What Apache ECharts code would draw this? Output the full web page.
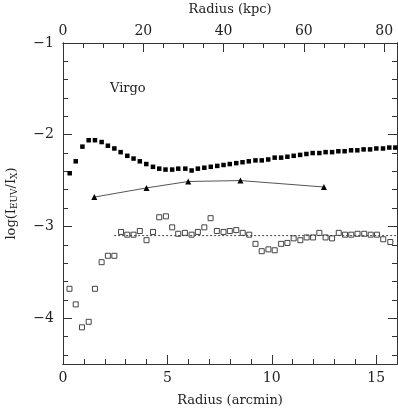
<!DOCTYPE html>
<html>
<head>
<meta charset="utf-8">
<script src="https://cdn.jsdelivr.net/npm/echarts@6/dist/echarts.min.js"></script>
<style>
  html, body { margin: 0; padding: 0; background: #fff; }
  #chart { width: 398px; height: 408px; }
</style>
</head>
<body>
<div id="chart"></div>
<script>
// filled points (log I_EUV/I_X, inner profile)
var filledX = [0.32,0.61,0.93,1.23,1.53,1.85,2.15,2.46,2.76,3.08,3.38,3.68,3.99,4.31,4.61,4.91,5.23,5.52,
  5.86,6.16,6.46,6.77,7.08,7.39,7.69,7.99,8.30,8.60,8.90,9.22,9.52,9.83,10.14,10.45,10.75,
  11.05,11.36,11.66,11.96,12.28,12.58,12.89,13.19,13.49,13.80,14.10,14.40,14.71,15.01,15.33,15.63,15.92];
var filledY = [-2.42,-2.29,-2.13,-2.06,-2.06,-2.08,-2.12,-2.15,-2.19,-2.23,-2.26,-2.29,-2.32,-2.35,-2.37,-2.38,-2.38,-2.37,
  -2.37,-2.39,-2.37,-2.36,-2.35,-2.34,-2.33,-2.32,-2.31,-2.30,-2.29,-2.28,-2.28,-2.27,-2.25,-2.25,-2.24,
  -2.23,-2.22,-2.21,-2.20,-2.20,-2.19,-2.19,-2.18,-2.18,-2.17,-2.17,-2.16,-2.16,-2.15,-2.15,-2.14,-2.14];

// open squares
var openX = [0.31,0.61,0.91,1.23,1.53,1.85,2.15,2.46,2.78,3.08,3.38,3.68,4.00,4.31,4.61,4.93,5.23,5.52,
  5.84,6.16,6.46,6.77,7.07,7.37,7.69,7.99,8.30,8.61,8.92,9.22,9.52,9.84,10.14,10.45,10.75,
  11.05,11.37,11.67,11.98,12.28,12.58,12.89,13.21,13.51,13.81,14.11,14.43,14.74,15.04,15.34,15.68];
var openY = [-3.68,-3.85,-4.10,-4.04,-3.68,-3.39,-3.32,-3.32,-3.06,-3.09,-3.09,-3.05,-3.15,-3.06,-2.90,-2.89,-3.01,-3.08,
  -3.07,-3.09,-3.06,-3.01,-2.91,-3.05,-3.06,-3.05,-3.04,-3.07,-3.09,-3.19,-3.27,-3.25,-3.26,-3.19,-3.18,
  -3.13,-3.15,-3.12,-3.12,-3.07,-3.12,-3.13,-3.07,-3.09,-3.09,-3.08,-3.08,-3.09,-3.09,-3.14,-3.17];

// triangles
var triX = [1.5, 4.0, 6.0, 8.5, 12.5];
var triY = [-2.68, -2.58, -2.51, -2.50, -2.57];

// mean level of open squares (dotted)
var meanX = [2.45, 16];
var meanY = [-3.1, -3.1];

// ticks
var arcMajor = [0, 5, 10, 15];
var arcMinor = [1,2,3,4,6,7,8,9,11,12,13,14,16];
var kpcMajor = [0, 20, 40, 60, 80];
var kpcMinor = [5,10,15,25,30,35,45,50,55,65,70,75];
var yMajor = [-4, -3, -2, -1];
var yMinor = [-4.4,-4.2,-3.8,-3.6,-3.4,-3.2,-2.8,-2.6,-2.4,-2.2,-1.8,-1.6,-1.4,-1.2];

var kpcPerArcmin = 5.2;
var font = "'DejaVu Serif', 'Liberation Serif', serif";
var ink = '#333';

function zip(a, b) { return a.map(function (v, i) { return [v, b[i]]; }); }
function minus(v) { return (v < 0 ? '\u2212' : '') + Math.abs(v); }

function xAx(pos, min, max, ticks, len, labels, extra) {
  var ax = {
    type: 'value', position: pos, min: min, max: max,
    axisLine: { show: true, onZero: false, lineStyle: { color: ink, width: 1 } },
    axisTick: { show: true, inside: true, length: len, customValues: ticks, lineStyle: { color: ink } },
    axisLabel: labels ? { show: true, customValues: labels, margin: pos === 'top' ? 5 : 7,
      color: '#222', fontFamily: font, fontSize: 14 } : { show: false },
    splitLine: { show: false }
  };
  return Object.assign(ax, extra || {});
}

var yAx = function (pos, ticks, len, labels, extra) {
  var ax = {
    type: 'value', position: pos, min: -4.5, max: -1, offset: 0,
    axisLine: { show: true, onZero: false, lineStyle: { color: ink, width: 1 } },
    axisTick: { show: true, inside: true, length: len, customValues: ticks, lineStyle: { color: ink } },
    axisLabel: labels ? { show: true, customValues: labels, margin: 9, formatter: minus,
      color: '#222', fontFamily: font, fontSize: 14 } : { show: false },
    splitLine: { show: false }
  };
  return Object.assign(ax, extra || {});
};

var option = {
  backgroundColor: '#fff',
  animation: false,
  title: {
    text: 'Virgo', left: 105, top: 77,
    textStyle: { fontFamily: font, fontSize: 13, fontWeight: 'normal', color: '#222' }
  },
  grid: { left: 63, right: 1, top: 43, bottom: 44, outerBoundsMode: 'none', containLabel: false },
  xAxis: [
    xAx('bottom', 0, 16, arcMajor, 9, arcMajor, {
      name: 'Radius (arcmin)', nameLocation: 'middle', nameGap: 30,
      nameTextStyle: { fontFamily: font, fontSize: 13, color: '#222' }
    }),
    xAx('bottom', 0, 16, arcMinor, 5, null),
    xAx('top', 0, 16 * kpcPerArcmin, kpcMajor, 9, kpcMajor, {
      name: 'Radius (kpc)', nameLocation: 'middle', nameGap: 27,
      nameTextStyle: { fontFamily: font, fontSize: 13, color: '#222' }
    }),
    xAx('top', 0, 16 * kpcPerArcmin, kpcMinor, 5, null)
  ],
  yAxis: [
    yAx('left', yMajor, 9, yMajor, {
      name: '{n|log(I}{s|EUV}{n|/I}{s|X}{n|)}', nameLocation: 'middle', nameGap: 44,
      nameTextStyle: {
        rich: {
          n: { fontFamily: font, fontSize: 13, color: '#222' },
          s: { fontFamily: font, fontSize: 9, color: '#222', verticalAlign: 'bottom', padding: [6, 0, 0, 0] }
        }
      }
    }),
    yAx('left', yMinor, 5, null),
    yAx('right', yMajor, 9, null),
    yAx('right', yMinor, 5, null)
  ],
  series: [
    {
      type: 'line', data: zip(meanX, meanY), symbol: 'none',
      lineStyle: { color: '#444', width: 1, type: [2, 2] }
    },
    {
      type: 'line', data: zip(triX, triY), symbol: 'triangle', symbolSize: 6,
      itemStyle: { color: '#000' }, lineStyle: { color: '#555', width: 1 }
    },
    {
      type: 'scatter', data: zip(filledX, filledY), symbol: 'rect', symbolSize: 4.5,
      itemStyle: { color: '#000', opacity: 1 }
    },
    {
      type: 'scatter', data: zip(openX, openY), symbol: 'rect', symbolSize: 5,
      itemStyle: { color: '#fff', borderColor: '#444', borderWidth: 1, opacity: 1 }
    }
  ]
};

var chart = echarts.init(document.getElementById('chart'));
chart.setOption(option);
</script>
</body>
</html>
